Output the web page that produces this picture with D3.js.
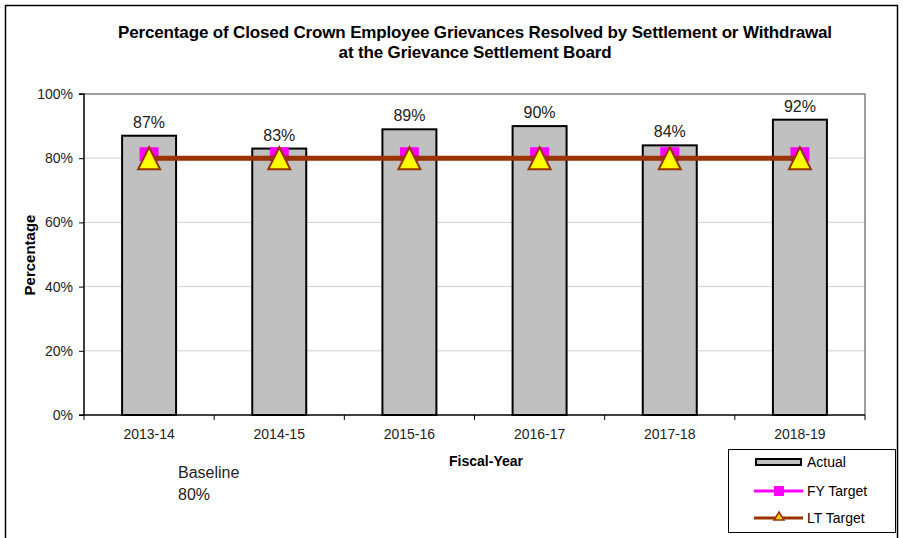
<!DOCTYPE html>
<html><head><meta charset="utf-8">
<script src="https://cdn.jsdelivr.net/npm/d3@7"></script>
<style>body{margin:0;background:#fff;} text{font-family:Arial,"Liberation Sans",sans-serif;}</style>
</head><body>
<svg id="c" width="903" height="538"></svg>
<script>
const categories = ["2013-14","2014-15","2015-16","2016-17","2017-18","2018-19"];
const actual = [87,83,89,90,84,92];
const fyTarget = [80,80,80,80,80,80];
const ltTarget = [80,80,80,80,80,80];
const yTicks = [0,20,40,60,80,100];

const svg = d3.select("#c");
svg.append("rect").attr("x",5.5).attr("y",5.5).attr("width",892).attr("height",540).attr("fill","none").attr("stroke","#000").attr("stroke-width",1.5);

const L=84,R=865,T=94,B=415;
const x = d3.scaleBand().domain(categories).range([L,R]);
const y = d3.scaleLinear().domain([0,100]).range([B,T]);

// gridlines
svg.append("g").selectAll("line").data(yTicks.filter(d=>d>0&&d<100)).join("line")
  .attr("x1",L).attr("x2",R).attr("y1",d=>y(d)).attr("y2",d=>y(d)).attr("stroke","#d0d0d0").attr("stroke-width",1);
// plot border
svg.append("path").attr("d",`M${L},${T}H${R}V${B}`).attr("fill","none").attr("stroke","#808080").attr("stroke-width",1.5);

// bars
const bw = 54;
svg.append("g").selectAll("rect").data(actual).join("rect")
  .attr("x",(d,i)=>x(categories[i])+x.bandwidth()/2-bw/2).attr("width",bw)
  .attr("y",d=>y(d)).attr("height",d=>B-y(d))
  .attr("fill","#c0c0c0").attr("stroke","#000").attr("stroke-width",2);

// value labels
svg.append("g").selectAll("text").data(actual).join("text")
  .attr("x",(d,i)=>x(categories[i])+x.bandwidth()/2).attr("y",d=>y(d)-8)
  .attr("text-anchor","middle").attr("font-size",16).attr("fill","#222").text(d=>d+"%");

// axes
const yAxis = d3.axisLeft(y).tickValues(yTicks).tickFormat(d=>d+"%").tickSize(5).tickPadding(6);
const gy = svg.append("g").attr("transform",`translate(${L},0)`).call(yAxis);
gy.select(".domain").attr("stroke","#000").attr("stroke-width",1.5).attr("d",`M-5,${T}H0V${B}H-5`);
gy.selectAll(".tick line").attr("stroke","#000");
gy.selectAll("text").attr("font-size",14).attr("fill","#222").style("font-family","Arial,'Liberation Sans',sans-serif");

const gx = svg.append("g").attr("transform",`translate(0,${B})`);
gx.append("line").attr("x1",L).attr("x2",R).attr("stroke","#000").attr("stroke-width",1.5);
const bounds = categories.map(c=>x(c)).concat([R]);
gx.selectAll("line.t").data(bounds).join("line").attr("class","t")
  .attr("x1",d=>d).attr("x2",d=>d).attr("y1",0).attr("y2",5).attr("stroke","#000");
gx.selectAll("text").data(categories).join("text")
  .attr("x",d=>x(d)+x.bandwidth()/2).attr("y",24).attr("text-anchor","middle")
  .attr("font-size",14).attr("fill","#222").text(d=>d);

// FY target markers
const cx = i=>x(categories[i])+x.bandwidth()/2;
svg.append("g").selectAll("rect").data(fyTarget).join("rect")
  .attr("x",(d,i)=>cx(i)-9.5).attr("y",d=>y(d)-11).attr("width",19).attr("height",14).attr("fill","#ff00ff");

// LT target line
const line = d3.line().x((d,i)=>cx(i)).y(d=>y(d));
svg.append("path").datum(ltTarget).attr("d",line).attr("fill","none").attr("stroke","#993300").attr("stroke-width",5);
svg.append("g").selectAll("path").data(ltTarget).join("path")
  .attr("transform",(d,i)=>`translate(${cx(i)},${y(d)})`).attr("d","M0,-11L11,11L-11,11Z")
  .attr("fill","#ffff00").attr("stroke","#993300").attr("stroke-width",2).attr("stroke-linejoin","miter");

// titles
const title = svg.append("text").attr("text-anchor","middle").attr("font-size",17).attr("font-weight","bold").attr("fill","#000").attr("letter-spacing","-0.15");
title.append("tspan").attr("x",475).attr("y",38).text("Percentage of Closed Crown Employee Grievances Resolved by Settlement or Withdrawal");
title.append("tspan").attr("x",475).attr("y",58).text("at the Grievance Settlement Board");

svg.append("text").attr("x",486).attr("y",466).attr("text-anchor","middle").attr("font-size",14).attr("font-weight","bold").text("Fiscal-Year");
svg.append("text").attr("transform","translate(35,255) rotate(-90)").attr("text-anchor","middle").attr("font-size",15).attr("font-weight","bold").text("Percentage");

svg.append("text").attr("x",178).attr("y",478).attr("font-size",16).attr("fill","#222").text("Baseline");
svg.append("text").attr("x",178).attr("y",500).attr("font-size",16).attr("fill","#222").text("80%");

// legend
const lg = svg.append("g");
lg.append("rect").attr("x",728.5).attr("y",449.5).attr("width",167).attr("height",83).attr("fill","#fff").attr("stroke","#000").attr("stroke-width",1);
const items = ["Actual","FY Target","LT Target"];
const ly = [462,491,518];
lg.append("rect").attr("x",756).attr("y",ly[0]-3).attr("width",45).attr("height",6).attr("fill","#c0c0c0").attr("stroke","#000").attr("stroke-width",2);
lg.append("line").attr("x1",754).attr("x2",803).attr("y1",ly[1]).attr("y2",ly[1]).attr("stroke","#ff00ff").attr("stroke-width",3);
lg.append("rect").attr("x",774).attr("y",ly[1]-5).attr("width",10).attr("height",10).attr("fill","#ff00ff");
lg.append("line").attr("x1",754).attr("x2",803).attr("y1",ly[2]).attr("y2",ly[2]).attr("stroke","#993300").attr("stroke-width",3);
lg.append("path").attr("transform",`translate(779,${ly[2]})`).attr("d","M0,-6L5,2L-5,2Z").attr("fill","#ffcc00").attr("stroke","#993300").attr("stroke-width",1.5);
lg.selectAll("text").data(items).join("text").attr("x",807).attr("y",(d,i)=>ly[i]+5).attr("font-size",14).attr("fill","#000").text(d=>d);
</script>
</body></html>
